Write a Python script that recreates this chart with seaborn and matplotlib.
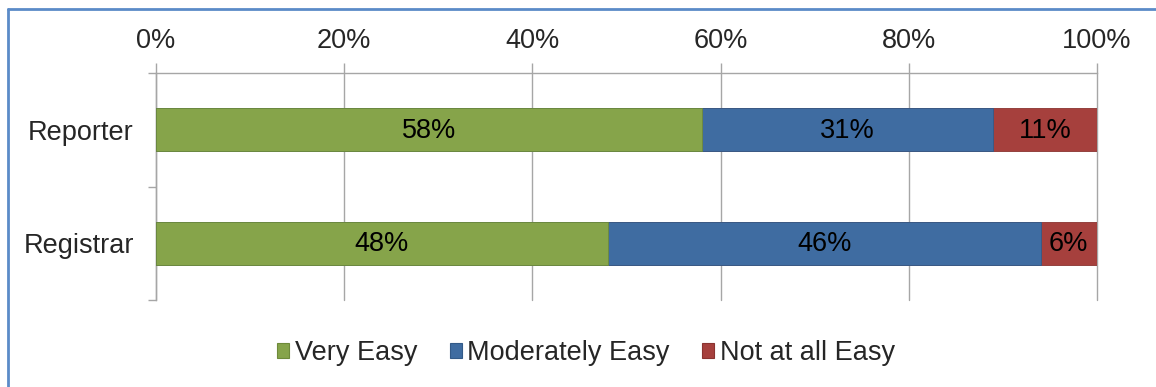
import matplotlib
matplotlib.use("Agg")
import matplotlib.pyplot as plt
import seaborn as sns
import pandas as pd
from matplotlib.ticker import PercentFormatter
from matplotlib.lines import Line2D
from matplotlib.patches import Patch

# ---- data ----
roles = ["Reporter", "Registrar"]
series = ["Very Easy", "Moderately Easy", "Not at all Easy"]
very_easy = [58, 48]
moderately_easy = [31, 46]
not_at_all_easy = [11, 6]
x_ticks = [0, 20, 40, 60, 80, 100]

colors = ["#86A44A", "#3F6CA1", "#A6403D"]
edge_colors = ["#6E8A3A", "#335A88", "#8A3330"]
grid_color = "#A6A6A6"
FS = 19.5

sns.set_theme(style="white")
plt.rcParams["font.family"] = ["Liberation Sans", "DejaVu Sans"]

df = pd.DataFrame({"Role": roles,
                   "Very Easy": very_easy,
                   "Moderately Easy": moderately_easy,
                   "Not at all Easy": not_at_all_easy})
cum = df[series].cumsum(axis=1)
cum["Role"] = df["Role"]

W, H = 1156, 387
fig = plt.figure(figsize=(W / 100, H / 100), dpi=100)
ax = fig.add_axes([156 / W, 1 - 300 / H, 941 / W, 227 / H])

# stacked bars: draw cumulative totals from the widest to the narrowest
for s, c, ec in reversed(list(zip(series, colors, edge_colors))):
    sns.barplot(data=cum, x=s, y="Role", order=roles, color=c, saturation=1,
                width=0.38, orient="h", ax=ax, edgecolor=ec, linewidth=0.6,
                zorder=3)

# value labels centred in each segment
for s in series:
    for i, r in enumerate(roles):
        v = df.loc[i, s]
        center = cum.loc[i, s] - v / 2
        ax.text(center, i + 0.01, f"{v}%", ha="center", va="center",
                fontsize=FS, color="black", zorder=5)

ax.set_xlim(0, 100)
ax.set_ylim(1.5, -0.5)
ax.set_xlabel("")
ax.set_ylabel("")
ax.xaxis.tick_top()
ax.set_xticks(x_ticks)
ax.xaxis.set_major_formatter(PercentFormatter(decimals=0))
ax.set_yticks(range(len(roles)))
ax.set_yticklabels(roles)
ax.set_yticks([-0.5, 0.5, 1.5], minor=True)

ax.tick_params(axis="x", which="major", top=True, bottom=False, length=7,
               width=1, color=grid_color, pad=7, labelsize=FS,
               direction="out")
ax.tick_params(axis="y", which="major", left=False, length=0, pad=16,
               labelsize=FS)
ax.tick_params(axis="y", which="minor", left=True, length=6, width=1,
               color=grid_color, direction="out")

ax.grid(axis="x", color=grid_color, linewidth=1, zorder=0)
ax.grid(axis="y", visible=False)
for gl in ax.get_xgridlines():
    gl.set_clip_on(False)
ax.set_axisbelow(True)
for side in ["right", "bottom"]:
    ax.spines[side].set_visible(False)
for side in ["top", "left"]:
    ax.spines[side].set_color(grid_color)
    ax.spines[side].set_linewidth(1)

handles = [Patch(facecolor=c, edgecolor=ec, linewidth=0.8)
           for c, ec in zip(colors, edge_colors)]
fig.legend(handles, series, loc="center", bbox_to_anchor=(586 / W, 1 - 353 / H),
           ncol=3, frameon=False, fontsize=FS, handlelength=0.45,
           handleheight=0.45, handletextpad=0.2, columnspacing=1.2)

# chart-area border (top and left)
border = "#5B8BC8"
fig.add_artist(Line2D([8 / W, 8 / W], [0, 1 - 8.5 / H], transform=fig.transFigure,
                      color=border, linewidth=2))
fig.add_artist(Line2D([8 / W, 1], [1 - 8.5 / H, 1 - 8.5 / H], transform=fig.transFigure,
                      color=border, linewidth=2))

fig.savefig("out.png", dpi=100)
